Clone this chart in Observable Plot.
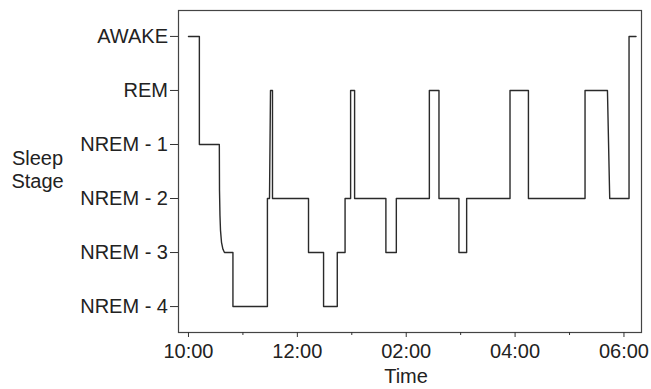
<!DOCTYPE html>
<html><head><meta charset="utf-8">
<script src="https://cdn.jsdelivr.net/npm/d3@7"></script>
<script src="https://cdn.jsdelivr.net/npm/@observablehq/plot@0.6"></script>
<style>body{margin:0;background:#fff} svg{display:block}</style>
</head><body><div id="chart"></div>
<script>
// Sleep stage names, top to bottom (level index 0..5)
const stageNames = ["AWAKE", "REM", "NREM - 1", "NREM - 2", "NREM - 3", "NREM - 4"];

// Hypnogram trace: clock time and stage level (0 = AWAKE ... 5 = NREM - 4)
const clockTimes = [
  "22:00:00","22:12:00","22:12:00","22:34:00","22:34:12","22:34:42","22:35:18","22:36:24","22:38:00","22:39:40",
  "22:49:00","22:49:00","23:27:00","23:27:00","23:29:18","23:30:24","23:32:36","23:32:36",
  "00:12:18","00:12:18","00:28:54","00:28:54","00:44:00","00:44:00","00:52:36","00:52:36",
  "00:58:42","00:58:42","01:03:06","01:03:06","01:37:36","01:37:36","01:49:06","01:49:06",
  "02:25:30","02:25:30","02:36:06","02:36:06","02:58:06","02:58:06","03:06:36","03:06:36",
  "03:54:24","03:54:24","04:14:42","04:14:42","05:17:06","05:17:06","05:41:48","05:44:18",
  "06:05:36","06:05:36","06:13:18"
];
const stageLevels = [
  0, 0, 2, 2, 2.85, 3.31, 3.59, 3.81, 3.94, 4,
  4, 5, 5, 3, 3, 1, 1, 3,
  3, 4, 4, 5, 5, 4, 4, 3,
  3, 1, 1, 3, 3, 4, 4, 3,
  3, 1, 1, 3, 3, 4, 4, 3,
  3, 1, 1, 3, 3, 1, 1, 3,
  3, 0, 0
];

const majorTicks = ["22:00", "00:00", "02:00", "04:00", "06:00"];
const majorTickLabels = ["10:00", "12:00", "02:00", "04:00", "06:00"];
const minorTicks = ["23:00", "01:00", "03:00", "05:00"];
const xDomainClock = ["21:49:00", "06:19:20"];
const yDomain = [5.48, -0.48];
const yLabel = "Sleep\nStage";
const xLabel = "Time";

function toDate(s) {
  const [h, m, sec = 0] = s.split(":").map(Number);
  const day = h >= 12 ? 1 : 2;
  return new Date(Date.UTC(2000, 0, day, h, m, sec));
}

const data = clockTimes.map((c, i) => ({t: toDate(c), level: stageLevels[i]}));
const majorDates = majorTicks.map(toDate);
const minorDates = minorTicks.map(toDate);
const labelFor = d => {
  const i = majorDates.findIndex(m => +m === +d);
  return i >= 0 ? majorTickLabels[i] : "";
};

const font = "'Liberation Sans', Arial, Helvetica, sans-serif";

const chart = Plot.plot({
  width: 651,
  height: 389,
  marginLeft: 178,
  marginRight: 10,
  marginTop: 10,
  marginBottom: 57,
  style: {fontFamily: font, fontSize: "20px", color: "#222", background: "#fff"},
  x: {type: "utc", domain: xDomainClock.map(toDate)},
  y: {type: "linear", domain: yDomain},
  marks: [
    Plot.frame({stroke: "#444", strokeWidth: 1.2}),
    Plot.axisY({
      ticks: d3.range(stageNames.length),
      tickFormat: d => stageNames[d],
      tickSize: 8, tickPadding: 2.5, label: null,
      fontSize: 20, stroke: "#333", fill: "#222"
    }),
    Plot.axisX({
      ticks: majorDates, tickFormat: labelFor,
      tickSize: 5, tickPadding: 6, label: null,
      fontSize: 20, stroke: "#333", fill: "#222"
    }),
    Plot.axisX({
      ticks: minorDates, tickFormat: () => "",
      tickSize: 3, label: null, stroke: "#333"
    }),
    Plot.line(data, {x: "t", y: "level", stroke: "#2a2a2a", strokeWidth: 1.4, curve: "linear"}),
    Plot.text([yLabel], {
      frameAnchor: "left", dx: -141, dy: -2, textAnchor: "middle",
      lineHeight: 1.15, fontSize: 20, fill: "#222"
    }),
    Plot.text([xLabel], {
      frameAnchor: "bottom", dx: -4, dy: 50, textAnchor: "middle",
      fontSize: 20, fill: "#222"
    })
  ]
});
document.getElementById("chart").appendChild(chart);
</script>
</body></html>
